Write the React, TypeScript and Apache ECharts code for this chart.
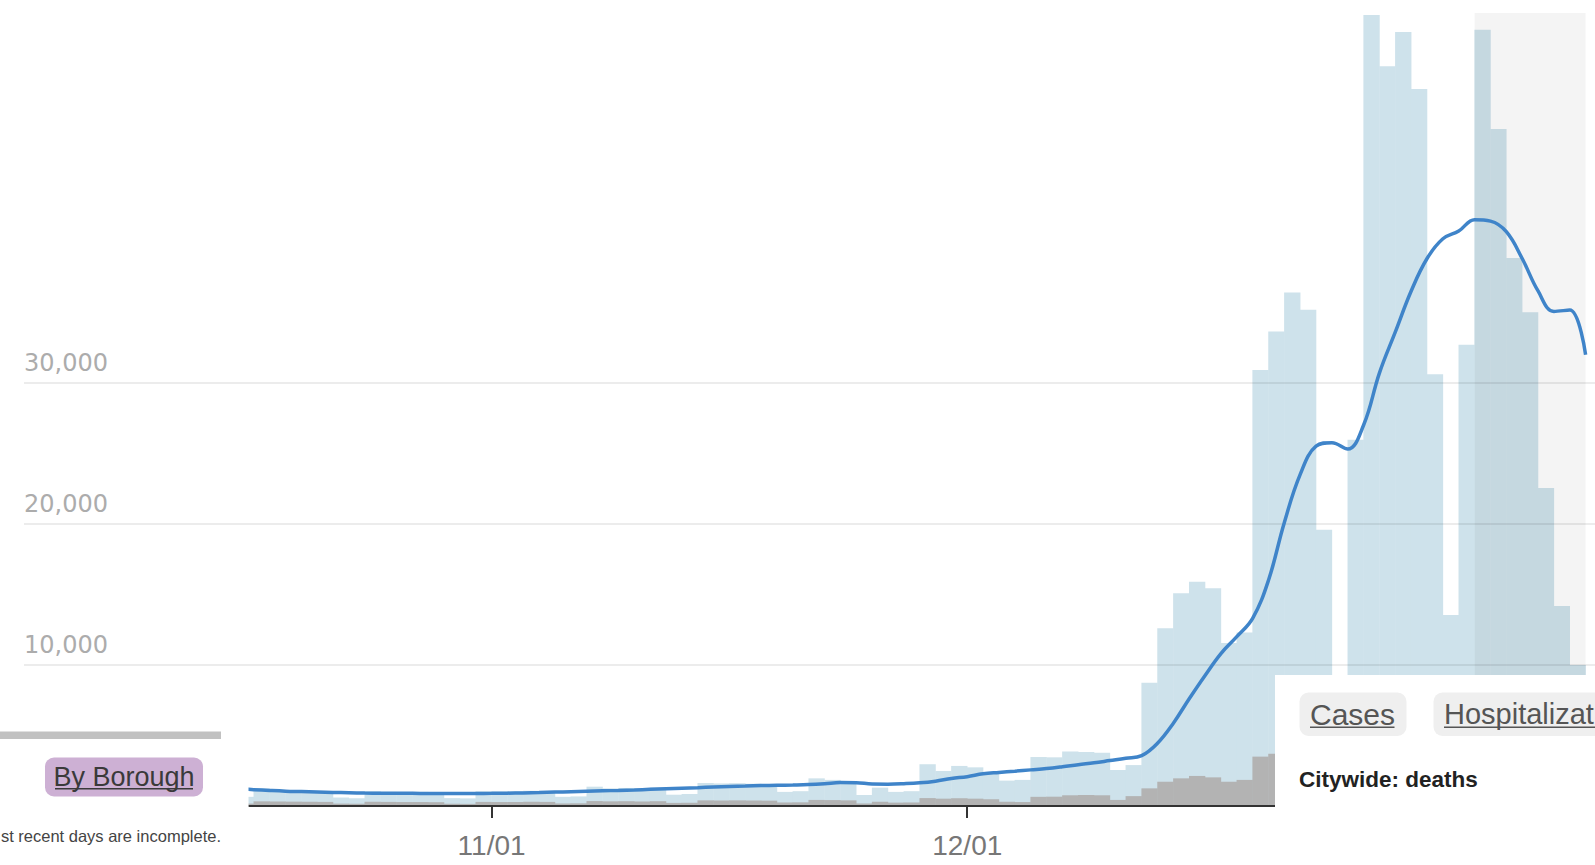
import { useEffect, useRef } from 'react';
import * as echarts from 'echarts';

// ---------- data ----------
const dates = [
  '10/16', '10/17', '10/18', '10/19', '10/20', '10/21', '10/22', '10/23', '10/24', '10/25', '10/26', '10/27', '10/28', '10/29', '10/30', '10/31',
  '11/01', '11/02', '11/03', '11/04', '11/05', '11/06', '11/07', '11/08', '11/09', '11/10', '11/11', '11/12', '11/13', '11/14', '11/15',
  '11/16', '11/17', '11/18', '11/19', '11/20', '11/21', '11/22', '11/23', '11/24', '11/25', '11/26', '11/27', '11/28', '11/29', '11/30',
  '12/01', '12/02', '12/03', '12/04', '12/05', '12/06', '12/07', '12/08', '12/09', '12/10', '12/11', '12/12', '12/13', '12/14', '12/15', '12/16',
  '12/17', '12/18', '12/19', '12/20', '12/21', '12/22', '12/23', '12/24', '12/25', '12/26', '12/27', '12/28', '12/29', '12/30', '12/31',
  '1/1', '1/2', '1/3', '1/4', '1/5', '1/6', '1/7', '1/8', '1/9',
];

// daily cases (light blue bars)
const cases = [
  700, 650, 1250, 1150, 1100, 1050, 1000, 600, 550, 1050, 1000, 980, 1000, 980, 560, 540,
  1050, 1020, 1050, 1080, 1060, 650, 680, 1370, 1250, 1280, 1150, 1300, 800, 850, 1630,
  1600, 1620, 1580, 1550, 1000, 1050, 1960, 1850, 1750, 780, 1300, 1000, 1050, 2960, 2480,
  2840, 2740, 2300, 1800, 1850, 3470, 3450, 3870, 3820, 3780, 2550, 2900, 8740, 12600, 15080, 15900,
  15430, 11550, 12300, 30900, 33630, 36400, 35170, 19570, 7500, 25950, 56060, 52420, 54850, 50810, 30600,
  13540, 32690, 55020, 47980, 38830, 35000, 22530, 14180, 10000,
];

// probable cases (gray bars)
const probable = [
  180, 170, 330, 320, 310, 300, 290, 170, 160, 300, 290, 280, 280, 270, 160, 150,
  290, 280, 290, 300, 290, 180, 190, 350, 330, 340, 320, 340, 220, 230, 400,
  390, 400, 390, 380, 250, 260, 430, 420, 400, 180, 300, 240, 250, 560, 520,
  550, 520, 480, 300, 280, 650, 660, 760, 780, 760, 430, 700, 1250, 1720, 1960, 2130,
  2030, 1720, 1850, 3500, 3700, 4200, 4400, 3000, 1500, 3800, 6500, 6200, 6400, 6000, 4000,
  2000, 4200, 6500, 5800, 5000, 4500, 3000, 2000, 1500,
];

// 7-day average (blue line)
const avg7 = [
  1220, 1160, 1100, 1050, 1020, 990, 960, 940, 920, 905, 900, 895, 890, 890, 890, 890,
  895, 910, 930, 955, 985, 1015, 1045, 1075, 1105, 1140, 1180, 1220, 1260, 1300, 1350,
  1390, 1420, 1450, 1470, 1490, 1520, 1580, 1660, 1650, 1560, 1550, 1580, 1640, 1760, 1950,
  2080, 2280, 2380, 2470, 2560, 2650, 2780, 2930, 3060, 3220, 3380, 3570, 4450, 5870, 7600, 9250,
  10800, 12000, 13300, 16000, 20100, 23500, 25500, 25750, 25300, 27000, 30700, 33600, 36500, 38800, 40200,
  40750, 41550, 41450, 40700, 38800, 36500, 35050, 35150, 31980,
];

const tickLabels = ['11/01', '12/01'];
const yLabelValues = [10000, 20000, 30000];
const incompleteFrom = '1/3';

// ---------- layout ----------
const W = 1595;
const H = 865;
const BASE_Y = 806;
const PLOT_TOP = 13;
const PLOT_LEFT = 249;
const PLOT_RIGHT = 1585.6;
const Y_MAX = 56200;
const Y_GRID_MAX = yLabelValues[yLabelValues.length - 1];
const X_MIN = -15.3;

const ORIGIN = dates.indexOf(tickLabels[0]);
const X_MAX = dates.length - 1 - ORIGIN;
const tickPos = tickLabels.map((d) => dates.indexOf(d) - ORIGIN);
const shadeStart = dates.indexOf(incompleteFrom) - ORIGIN - 1;
const ppu = (BASE_Y - PLOT_TOP) / Y_MAX;
const grid0Top = BASE_Y - Y_GRID_MAX * ppu;

const SANS = '"Liberation Sans", Arial, sans-serif';

export default function App() {
  const ref = useRef<HTMLDivElement>(null);

  useEffect(() => {
    if (!ref.current) return;
    const chart = echarts.init(ref.current, undefined, { renderer: 'svg' });

    const option: any = {
      animation: false,
      backgroundColor: '#ffffff',
      grid: [
        { left: 24, right: 0, top: grid0Top, bottom: H - BASE_Y },
        { left: PLOT_LEFT, right: W - PLOT_RIGHT, top: PLOT_TOP, bottom: H - BASE_Y },
      ],
      xAxis: [
        { gridIndex: 0, type: 'value', min: 0, max: 1, show: false },
        {
          gridIndex: 1,
          type: 'value',
          min: X_MIN,
          max: X_MAX,
          z: 4,
          axisLine: { show: true, onZero: false, lineStyle: { color: '#333333', width: 2 } },
          axisTick: {
            show: true,
            customValues: tickPos,
            length: 12,
            lineStyle: { color: '#333333', width: 2 },
          },
          axisLabel: {
            show: true,
            customValues: tickPos,
            formatter: (v: number) => tickLabels[tickPos.indexOf(Math.round(v))] ?? '',
            margin: 25,
            fontSize: 28,
            fontFamily: SANS,
            color: '#777777',
          },
          splitLine: { show: false },
        },
      ],
      yAxis: [
        {
          gridIndex: 0,
          type: 'value',
          min: 0,
          max: Y_GRID_MAX,
          interval: yLabelValues[0],
          z: 4,
          axisLine: { show: false },
          axisTick: { show: false },
          axisLabel: {
            inside: true,
            margin: 0,
            showMinLabel: false,
            formatter: (v: number) => (yLabelValues.includes(v) ? v.toLocaleString('en-US') : ''),
            fontSize: 24,
            fontFamily: '"DejaVu Sans", sans-serif',
            color: '#acacac',
            verticalAlign: 'bottom',
            lineHeight: 39,
          },
          splitLine: {
            show: true,
            showMinLine: false,
            lineStyle: { color: 'rgba(0,0,0,0.1)', width: 1.5 },
          },
        },
        { gridIndex: 1, type: 'value', min: 0, max: Y_MAX, show: false },
      ],
      series: [
        {
          name: 'Cases',
          type: 'bar',
          xAxisIndex: 1,
          yAxisIndex: 1,
          data: cases.map((v, i) => [i - ORIGIN - 0.5, v]),
          barWidth: '103%',
          barGap: '-100%',
          clip: true,
          itemStyle: { color: '#cee2eb' },
          z: 2,
          markArea: {
            silent: true,
            z: 3,
            itemStyle: { color: 'rgba(0,0,0,0.045)' },
            data: [[{ xAxis: shadeStart }, { xAxis: X_MAX }]],
          },
        },
        {
          name: 'Probable',
          type: 'bar',
          xAxisIndex: 1,
          yAxisIndex: 1,
          data: probable.map((v, i) => [i - ORIGIN - 0.5, v]),
          barWidth: '103%',
          barGap: '-100%',
          clip: true,
          itemStyle: { color: '#b3b3b3' },
          z: 2,
        },
        {
          name: '7-day average',
          type: 'line',
          xAxisIndex: 1,
          yAxisIndex: 1,
          data: avg7.map((v, i) => [i - ORIGIN, v]),
          smooth: 0.4,
          showSymbol: false,
          clip: true,
          lineStyle: { color: '#3f84c9', width: 3.5 },
          z: 5,
        },
      ],
      graphic: {
        elements: [
          // left panel (white backing covering the area left of the plot)
          { type: 'rect', z: 99, shape: { x: 0, y: 690, width: PLOT_LEFT - 0.5, height: H - 690 }, style: { fill: '#ffffff' } },
          { type: 'rect', z: 100, shape: { x: 0, y: 731.5, width: 221, height: 7.5 }, style: { fill: '#c1c1c1' } },
          { type: 'rect', z: 100, shape: { x: 45, y: 757.5, width: 158, height: 39, r: 9 }, style: { fill: '#cdb0d4' } },
          {
            type: 'text', z: 101, x: 124, y: 777,
            style: { text: 'By Borough', font: `27px ${SANS}`, fill: '#3a3a3a', textAlign: 'center', textVerticalAlign: 'middle', align: 'center', verticalAlign: 'middle' },
          },
          { type: 'rect', z: 101, shape: { x: 55, y: 788, width: 138, height: 1.5 }, style: { fill: '#3a3a3a' } },
          {
            type: 'text', z: 101, x: 221, y: 836,
            style: { text: 'st recent days are incomplete.', font: `16.5px ${SANS}`, fill: '#444444', textAlign: 'right', textVerticalAlign: 'middle', align: 'right', verticalAlign: 'middle' },
          },
          // right panel
          { type: 'rect', z: 100, shape: { x: 1275, y: 675, width: 330, height: 200 }, style: { fill: '#ffffff' } },
          { type: 'rect', z: 101, shape: { x: 1299.5, y: 692.5, width: 107, height: 43.5, r: 9 }, style: { fill: '#efefef' } },
          {
            type: 'text', z: 102, x: 1352.5, y: 714,
            style: { text: 'Cases', font: `30px ${SANS}`, fill: '#555555', textAlign: 'center', textVerticalAlign: 'middle', align: 'center', verticalAlign: 'middle' },
          },
          { type: 'rect', z: 102, shape: { x: 1310, y: 726.5, width: 84.5, height: 1.5 }, style: { fill: '#555555' } },
          { type: 'rect', z: 101, shape: { x: 1433.5, y: 692.5, width: 260, height: 43.5, r: 9 }, style: { fill: '#efefef' } },
          {
            type: 'text', z: 102, x: 1444, y: 714,
            style: { text: 'Hospitalizat', font: `29px ${SANS}`, fill: '#555555', textAlign: 'left', textVerticalAlign: 'middle', align: 'left', verticalAlign: 'middle' },
          },
          { type: 'rect', z: 102, shape: { x: 1444, y: 726.5, width: 160, height: 1.5 }, style: { fill: '#555555' } },
          {
            type: 'text', z: 102, x: 1299, y: 779,
            style: { text: 'Citywide: deaths', font: `bold 22.5px ${SANS}`, fill: '#222222', textAlign: 'left', textVerticalAlign: 'middle', align: 'left', verticalAlign: 'middle' },
          },
        ],
      },
    };

    chart.setOption(option);
    return () => chart.dispose();
  }, []);

  return (
    <div
      ref={ref}
      style={{ position: 'fixed', left: 0, top: 0, width: W, height: H, background: '#ffffff' }}
    />
  );
}
